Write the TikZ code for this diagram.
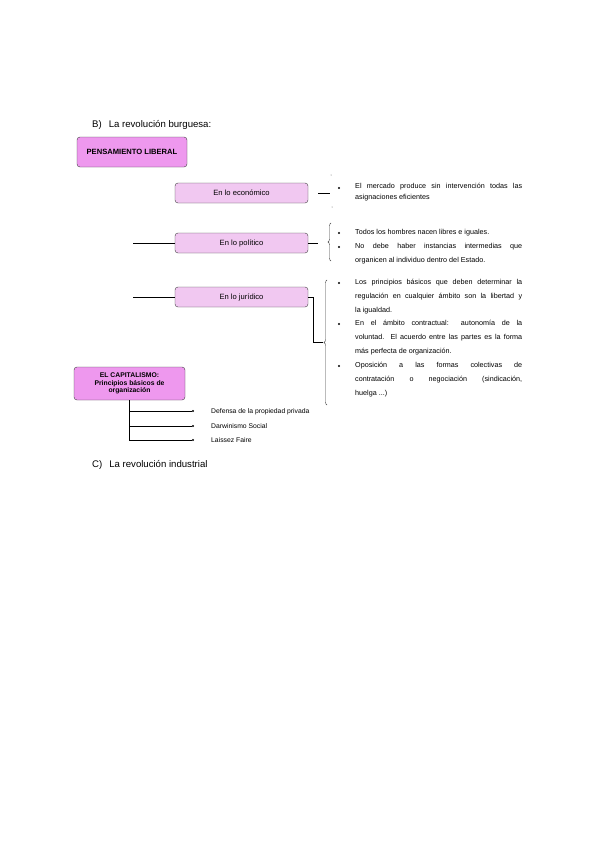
\documentclass[tikz,border=0pt]{standalone}
\usepackage{fontspec}
\setmainfont{Liberation Sans}
\usetikzlibrary{decorations.pathreplacing}

\definecolor{pensviolet}{RGB}{238,152,238}
\definecolor{lightviolet}{RGB}{241,200,241}

\tikzset{
  darkbox/.style={draw=black!75, fill=pensviolet, rounded corners=3pt, inner sep=0pt, font=\fontsize{6.8}{7.8}\selectfont\bfseries, align=center},
  lightbox/.style={draw=black!75, fill=lightviolet, rounded corners=3pt, minimum width=133pt, minimum height=20pt, inner sep=0pt, font=\fontsize{7.6}{8}\selectfont},
  bultext/.style={anchor=north west, inner sep=0pt, text width=167pt, align=justify},
  heading/.style={anchor=base west, inner sep=0pt, font=\fontsize{9.6}{11}\selectfont},
  itemtext/.style={anchor=base west, inner sep=0pt, font=\fontsize{6.8}{8}\selectfont},
  bracer/.style={decorate, decoration={brace, amplitude=3pt}, black!75},
}

\begin{document}
\begin{tikzpicture}[x=1pt,y=-1pt]
\useasboundingbox[fill=white] (0,0) rectangle (600,848);

% headings
\node[heading] (hb) at (92,127.5) {B)\hspace{7pt}La revolución burguesa:};
\node[heading] (hc) at (92,467.5) {C)\hspace{7pt}La revolución industrial};

% main boxes
\node[darkbox, minimum width=110pt, minimum height=30pt, font=\fontsize{7.6}{8}\selectfont\bfseries] (pens) at (132,152) {PENSAMIENTO LIBERAL};
\node[lightbox] (econ) at (241.5,193) {En lo económico};
\node[lightbox] (poli) at (241.5,243) {En lo político};
\node[lightbox] (juri) at (241.5,297) {En lo jurídico};
\node[darkbox, minimum width=111pt, minimum height=33pt] (capi) at (129.5,383.5) {EL CAPITALISMO:\\Principios básicos de\\organización};

% lines into the boxes
\coordinate (pl) at (133,243);
\coordinate (jl) at (133,297);
\draw (pl) -- (poli.west);
\draw (jl) -- (juri.west);

% economico
\coordinate (er) at (330,193);
\draw (econ.east) ++(10,0) coordinate (es) -- (er);
\fill[black!60] (331,175) circle (0.5pt);
\fill[black!60] (332,207) circle (0.5pt);
\fill (339,188) circle (1.2pt);
\node[bultext, font=\fontsize{7.2}{11}\selectfont] (t1) at (355,183) {El mercado produce sin intervención todas las\linebreak asignaciones eficientes};

% politico
\coordinate (pr) at (318,243);
\draw (poli.east) -- (pr);
\draw[bracer] (331,261) -- (331,223);
\fill (339,233) circle (1.2pt);
\fill (339,247) circle (1.2pt);
\node[bultext, font=\fontsize{7.2}{14.5}\selectfont] (t2) at (355,229) {Todos los hombres nacen libres e iguales.};
\node[bultext, font=\fontsize{7.2}{14.5}\selectfont] (t3) at (355,243) {No debe haber instancias intermedias que\linebreak organicen al individuo dentro del Estado.};

% juridico
\coordinate (jr) at (323,342);
\draw (juri.east) -| (313,342) -- (jr);
\draw[bracer] (327,405) -- (327,280);
\fill (339,283) circle (1.2pt);
\fill (339,324) circle (1.2pt);
\fill (339,366) circle (1.2pt);
\node[bultext, font=\fontsize{7.2}{13.9}\selectfont] (t4) at (355,279) {Los principios básicos que deben determinar la\linebreak regulación en cualquier ámbito son la libertad y\linebreak la igualdad.};
\node[bultext, font=\fontsize{7.2}{13.9}\selectfont] (t5) at (355,320) {En el ámbito contractual: autonomía de la\linebreak voluntad. El acuerdo entre las partes es la forma\linebreak más perfecta de organización.};
\node[bultext, font=\fontsize{7.2}{13.9}\selectfont] (t6) at (355,362) {Oposición a las formas colectivas de\linebreak contratación o negociación (sindicación,\linebreak huelga ...)};

% capitalismo
\coordinate (cb) at (129,440);
\draw (capi.south -| cb) -- (cb);
\foreach \yy/\nm/\txt in {411/d1/Defensa de la propiedad privada, 426/d2/Darwinismo Social, 440/d3/Laissez Faire}{
  \draw (129,\yy) -- (192,\yy);
  \fill (193,\yy) circle (1.2pt);
  \node[itemtext] (\nm) at (211,\yy+2.5) {\txt};
}
\end{tikzpicture}
\end{document}
